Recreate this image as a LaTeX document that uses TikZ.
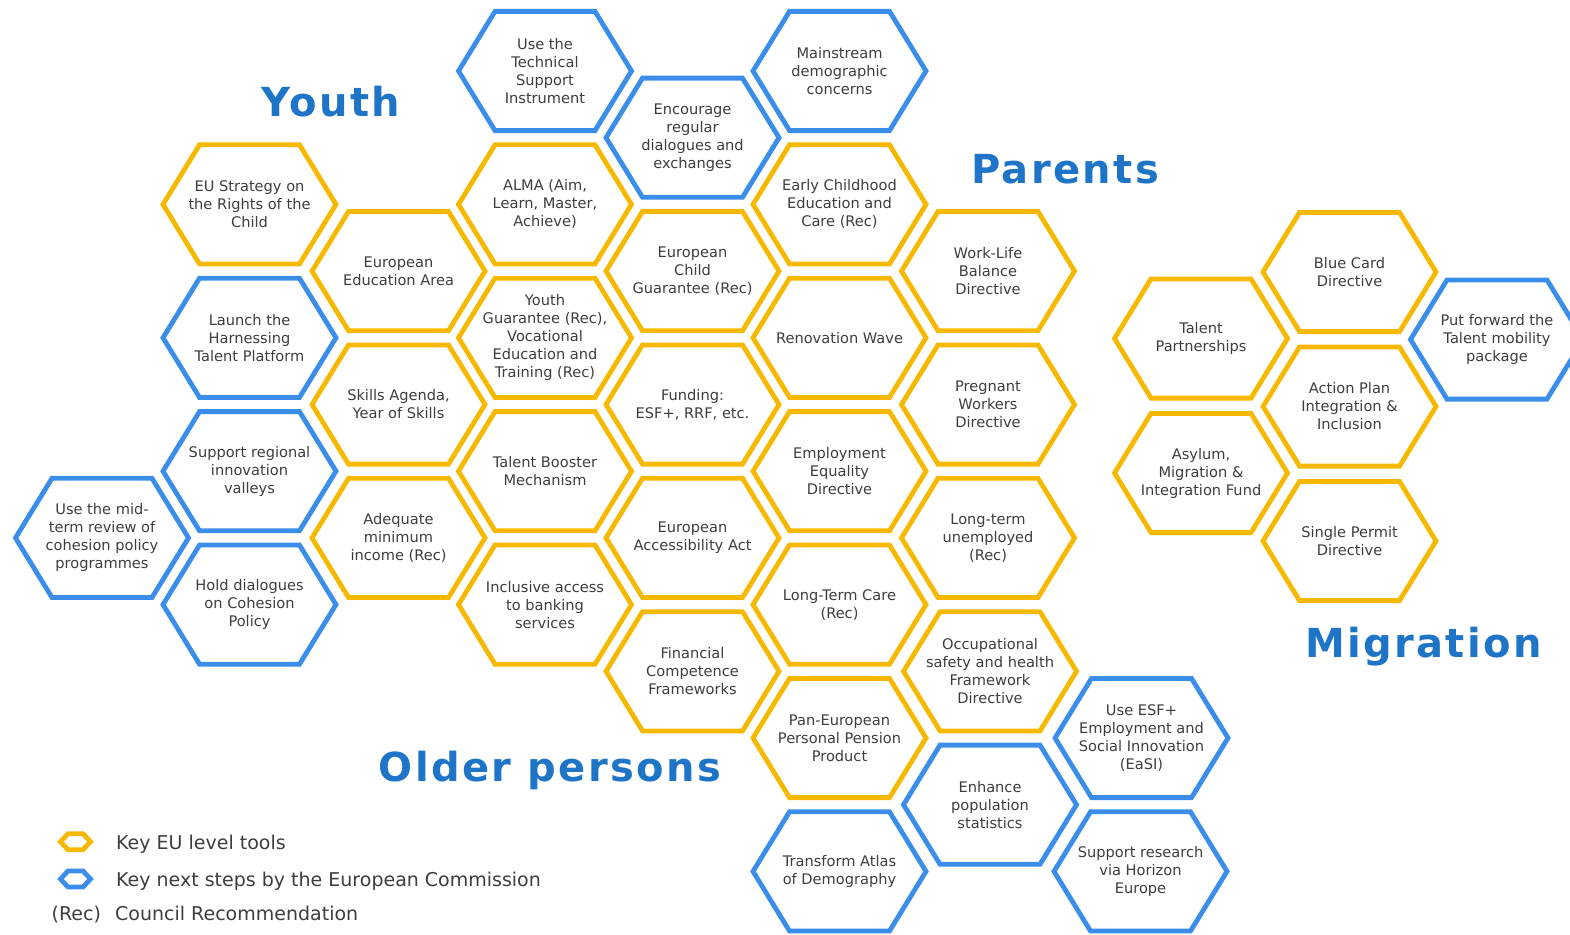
\documentclass[tikz,border=0pt]{standalone}
\usepackage{fontspec}
\setmainfont{DejaVu Sans}
\newfontfamily\titlefont{DejaVu Sans}[LetterSpace=6.0]
\definecolor{toolgold}{HTML}{F6B800}
\definecolor{stepblue}{HTML}{3A8DE8}
\definecolor{headblue}{HTML}{1E74C6}
\definecolor{bodygray}{HTML}{3D3D3D}
\tikzset{
  cell/.style={align=center, text=bodygray, inner sep=0pt,
    font=\fontsize{14.6}{18}\selectfont},
  rim/.style={line width=4.8pt, line join=miter},
  heading/.style={anchor=base, text=headblue, inner sep=0pt,
    font=\titlefont\bfseries\fontsize{40}{44}\selectfont},
  legendtext/.style={anchor=base west, text=bodygray, inner sep=0pt,
    font=\fontsize{19}{23}\selectfont},
}
% one honeycomb cell: name, x, y, outline colour, text
\newcommand\hexcell[5]{%
  \node[cell] (#1) at (#2,#3) {#5};
  \draw[rim, draw=#4, shift={(#1.center)}]
    (-86.5,0) -- (-50,59.6) -- (50,59.6) -- (86.5,0)
    -- (50,-59.6) -- (-50,-59.6) -- cycle;
}
% small cell used in the key: name, x, y, outline colour
\newcommand\keyhex[4]{%
  \coordinate (#1) at (#2,#3);
  \draw[rim, draw=#4, shift={(#1)}]
    (-15,0) -- (-7.5,8) -- (7.5,8) -- (15,0)
    -- (7.5,-8) -- (-7.5,-8) -- cycle;
}
\begin{document}
\begin{tikzpicture}[x=1pt,y=-1pt]
\useasboundingbox (0,0) rectangle (1570,934);
\clip (0,0) rectangle (1570,934);

% column 0
\hexcell{midterm}{102}{537.9}{stepblue}{Use the mid-\\term review of\\cohesion policy\\programmes}
% column 1
\hexcell{childRights}{249.5}{204.4}{toolgold}{EU Strategy on\\the Rights of the\\Child}
\hexcell{harnessing}{249.5}{337.8}{stepblue}{Launch the\\Harnessing\\Talent Platform}
\hexcell{valleys}{249.5}{471.2}{stepblue}{Support regional\\innovation\\valleys}
\hexcell{cohesion}{249.5}{604.6}{stepblue}{Hold dialogues\\on Cohesion\\Policy}
% column 2
\hexcell{eduArea}{398.5}{271.1}{toolgold}{European\\Education Area}
\hexcell{skills}{398.5}{404.5}{toolgold}{Skills Agenda,\\Year of Skills}
\hexcell{minIncome}{398.5}{537.9}{toolgold}{Adequate\\minimum\\income (Rec)}
% column 3
\hexcell{tsi}{545}{71}{stepblue}{Use the\\Technical\\Support\\Instrument}
\hexcell{alma}{545}{204.4}{toolgold}{ALMA (Aim,\\Learn, Master,\\Achieve)}
\hexcell{youthGuar}{545}{337.8}{toolgold}{Youth\\Guarantee (Rec),\\Vocational\\Education and\\Training (Rec)}
\hexcell{booster}{545}{471.2}{toolgold}{Talent Booster\\Mechanism}
\hexcell{banking}{545}{604.6}{toolgold}{Inclusive access\\to banking\\services}
% column 4
\hexcell{dialogues}{692.5}{137.7}{stepblue}{Encourage\\regular\\dialogues and\\exchanges}
\hexcell{childGuar}{692.5}{271.1}{toolgold}{European\\Child\\Guarantee (Rec)}
\hexcell{funding}{692.5}{404.5}{toolgold}{Funding:\\ESF+, RRF, etc.}
\hexcell{access}{692.5}{537.9}{toolgold}{European\\Accessibility Act}
\hexcell{finComp}{692.5}{671.3}{toolgold}{Financial\\Competence\\Frameworks}
% column 5
\hexcell{mainstream}{839.5}{71}{stepblue}{Mainstream\\demographic\\concerns}
\hexcell{ecec}{839.5}{204.4}{toolgold}{Early Childhood\\Education and\\Care (Rec)}
\hexcell{renovation}{839.5}{337.8}{toolgold}{Renovation Wave}
\hexcell{equality}{839.5}{471.2}{toolgold}{Employment\\Equality\\Directive}
\hexcell{ltc}{839.5}{604.6}{toolgold}{Long-Term Care\\(Rec)}
\hexcell{pepp}{839.5}{738}{toolgold}{Pan-European\\Personal Pension\\Product}
\hexcell{atlas}{839.5}{871.4}{stepblue}{Transform Atlas\\of Demography}
% column 6
\hexcell{worklife}{988}{271.1}{toolgold}{Work-Life\\Balance\\Directive}
\hexcell{pregnant}{988}{404.5}{toolgold}{Pregnant\\Workers\\Directive}
\hexcell{unemployed}{988}{537.9}{toolgold}{Long-term\\unemployed\\(Rec)}
\hexcell{osh}{990}{671.3}{toolgold}{Occupational\\safety and health\\Framework\\Directive}
\hexcell{statistics}{990}{804.7}{stepblue}{Enhance\\population\\statistics}
% column 7
\hexcell{easi}{1141.5}{738}{stepblue}{Use ESF+\\Employment and\\Social Innovation\\(EaSI)}
\hexcell{horizon}{1140.5}{871.4}{stepblue}{Support research\\via Horizon\\Europe}

% migration cluster
\hexcell{partnerships}{1201}{338.5}{toolgold}{Talent\\Partnerships}
\hexcell{amif}{1201}{473}{toolgold}{Asylum,\\Migration \&\\Integration Fund}
\hexcell{bluecard}{1349.5}{272}{toolgold}{Blue Card\\Directive}
\hexcell{actionplan}{1349.5}{406.5}{toolgold}{Action Plan\\Integration \&\\Inclusion}
\hexcell{permit}{1349.5}{541}{toolgold}{Single Permit\\Directive}
\hexcell{mobility}{1497}{339.5}{stepblue}{Put forward the\\Talent mobility\\package}

% group headings
\node[heading] (youth) at (331,116) {Youth};
\node[heading] (parents) at (1065,183) {Parents};
\node[heading] (migration) at (1423.5,657) {Migration};
\node[heading] (older) at (550,781.7) {Older persons};

% key
\keyhex{keyTools}{75.5}{841.7}{toolgold}
\keyhex{keySteps}{75.5}{879}{stepblue}
\node[legendtext] (toolsText) at (116,849) {Key EU level tools};
\node[legendtext] (stepsText) at (116,886.5) {Key next steps by the European Commission};
\node[legendtext] (recMark) at (51.5,920) {(Rec)};
\node[legendtext] (recText) at (115,920) {Council Recommendation};
\end{tikzpicture}
\end{document}
